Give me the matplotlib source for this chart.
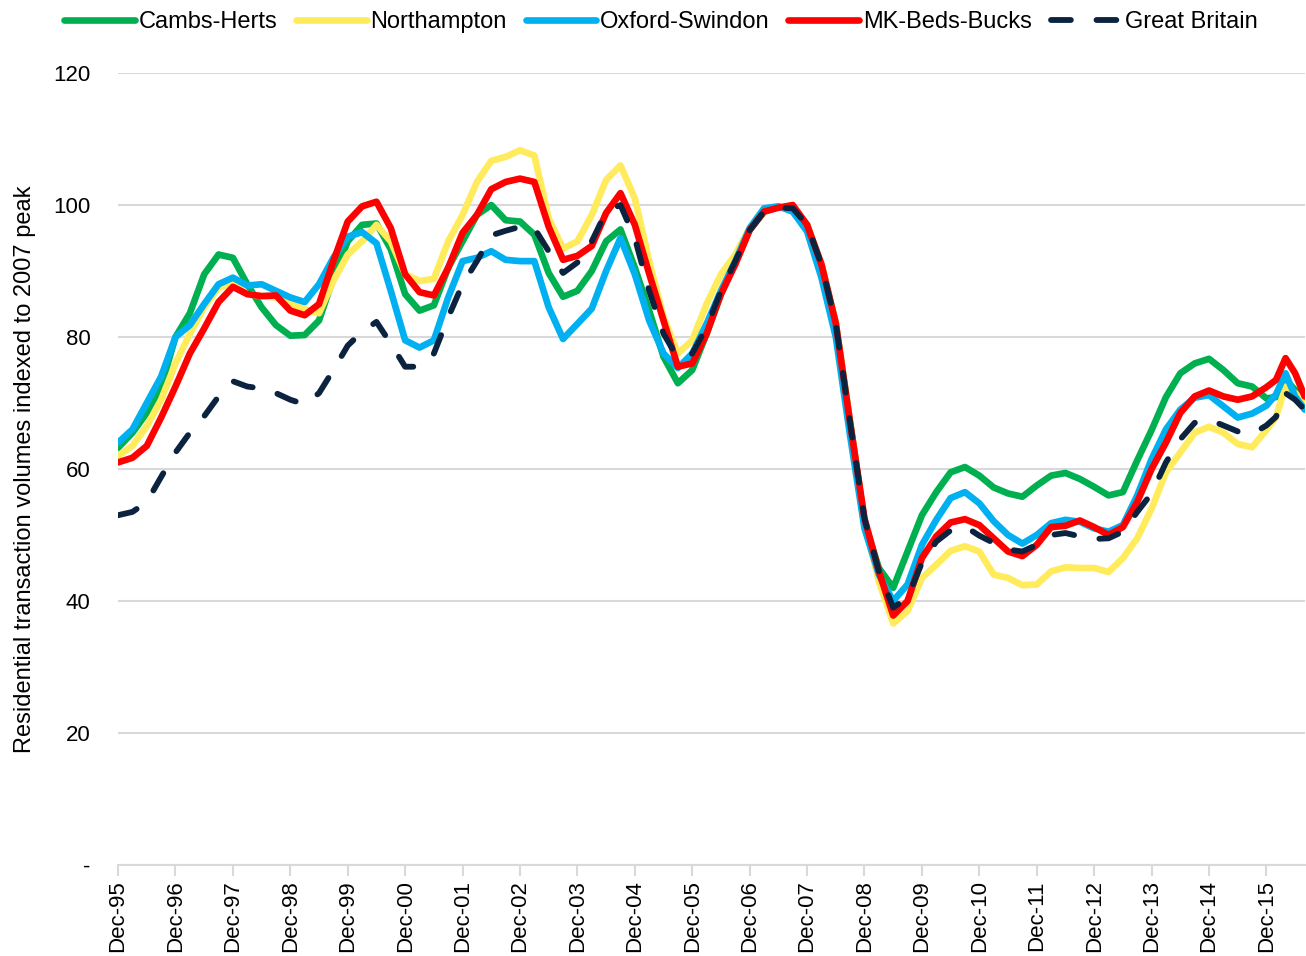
import matplotlib
matplotlib.use("Agg")
import matplotlib.pyplot as plt

plt.rcParams['font.family'] = ['Liberation Sans', 'DejaVu Sans']

# months since Dec-95 (quarterly, denser at the end)
months = list(range(0, 240, 3)) + [240, 242, 244, 246, 248]

cambs_herts = [63.2, 65.5, 68.5, 72.5, 80, 83.6, 89.5, 92.5, 92, 88,
               84.5, 81.8, 80.2, 80.3, 82.5, 89, 94.5, 97, 97.2, 93.3,
               86.5, 84, 84.8, 90.5, 94.5, 98.5, 100, 97.7, 97.5, 95.5,
               89.7, 86.1, 87, 90, 94.5, 96.3, 90.5, 84, 77, 73,
               75, 80.5, 86.5, 91.5, 96.2, 99, 99.7, 99.5, 97, 91,
               82, 67, 52, 45, 42, 47.5, 53, 56.5, 59.5, 60.3,
               59, 57.2, 56.3, 55.8, 57.5, 59, 59.4, 58.5, 57.3, 56,
               56.5, 61.3, 65.9, 70.9, 74.5, 76, 76.7, 75, 73, 72.5,
               70.7, 70.9, 73.5, 72, 70.3]
northampton = [62, 63.5, 66.5, 70.5, 76, 80.5, 84.5, 87.5, 88, 86.5,
               86.2, 86, 85, 84.2, 83.6, 88.5, 92.5, 94.5, 97, 94.5,
               89.5, 88.5, 88.8, 94.5, 98.5, 103.5, 106.7, 107.3, 108.3, 107.5,
               98, 93.4, 94.5, 98.5, 103.8, 106, 101, 91.5, 83, 77.5,
               79.5, 85, 89.5, 92.5, 96.5, 99, 99.8, 99.3, 97, 91,
               82, 67, 52, 43, 36.6, 38.5, 43.5, 45.5, 47.6, 48.3,
               47.5, 44, 43.5, 42.4, 42.5, 44.5, 45.1, 45, 45, 44.4,
               46.5, 49.5, 54, 59.5, 62.5, 65.5, 66.4, 65.5, 63.8, 63.3,
               65.9, 67.9, 72.5, 71.5, 70]
oxford_swindon = [64, 66, 70, 74, 80, 81.8, 85, 88, 89, 87.8,
                  88, 87, 86, 85.3, 88, 92, 95.2, 95.9, 94.2, 87,
                  79.5, 78.4, 79.5, 86, 91.5, 92, 93, 91.7, 91.5, 91.5,
                  84.5, 79.7, 82, 84.3, 90, 95, 89.5, 82.5, 77.5, 75.3,
                  77.5, 82, 87, 91.5, 96.5, 99.5, 99.8, 99, 96, 89,
                  80, 65, 51, 44, 40, 42.5, 48.5, 52.3, 55.6, 56.5,
                  54.8, 52.1, 50, 48.7, 50, 51.8, 52.3, 52, 51, 50.5,
                  51.5, 56, 61.5, 66, 69, 70.8, 71.2, 69.5, 67.8, 68.4,
                  69.6, 71.3, 74.5, 71, 69]
mk_beds_bucks = [61, 61.7, 63.5, 67.8, 72.5, 77.5, 81.3, 85.3, 87.6, 86.5,
                 86.2, 86.3, 84, 83.3, 85, 91.5, 97.5, 99.8, 100.5, 96.5,
                 89.5, 86.8, 86.3, 90.5, 95.8, 98.5, 102.4, 103.5, 104, 103.5,
                 96.7, 91.7, 92.3, 93.8, 98.8, 101.8, 97, 89.6, 82.5, 75.5,
                 76, 80.5, 86.5, 91, 96.2, 99, 99.6, 100, 97, 91,
                 82.1, 67, 52.5, 44.5, 37.8, 40, 46.5, 49.8, 51.9, 52.4,
                 51.5, 49.5, 47.5, 46.8, 48.5, 51.2, 51.4, 52.2, 51.2, 50,
                 51.2, 55, 60, 64, 68.5, 71, 71.9, 71, 70.5, 71,
                 72.4, 73.5, 76.8, 74.5, 71]
great_britain = [53, 53.5, 55, 58.8, 62.5, 65.5, 68, 71, 73.3, 72.5,
                 72.2, 71.5, 70.5, 69.8, 71.5, 75, 78.7, 80.8, 82.3, 79,
                 75.5, 75.5, 77.5, 83, 88, 91.5, 95.4, 96.1, 96.7, 96.5,
                 93, 89.7, 91.3, 94.5, 99, 100, 95, 87, 80.5, 76.8,
                 77.5, 81.5, 87, 91.5, 96.2, 99, 99.6, 99.5, 97, 91,
                 82, 67, 52.5, 44.5, 39, 40.5, 45.8, 49, 50.7, 51.3,
                 49.9, 48.8, 47.8, 47.5, 48.5, 50, 50.3, 49.8, 49.4, 49.5,
                 50.5, 53.5, 56.3, 61, 64.5, 67, 67.5, 66.6, 65.7, 65.3,
                 66.6, 67.9, 71.5, 70.5, 69]

year_labels = ['Dec-95', 'Dec-96', 'Dec-97', 'Dec-98', 'Dec-99', 'Dec-00', 'Dec-01',
               'Dec-02', 'Dec-03', 'Dec-04', 'Dec-05', 'Dec-06', 'Dec-07', 'Dec-08',
               'Dec-09', 'Dec-10', 'Dec-11', 'Dec-12', 'Dec-13', 'Dec-14', 'Dec-15']

fig = plt.figure(figsize=(13.06, 9.56), dpi=100)
ax = fig.add_axes([0.0904, 0.0952, 0.9086, 0.8284])

lw = 4.8
ax.plot(months, cambs_herts, color='#00B050', lw=lw, label='Cambs-Herts', solid_capstyle='round')
ax.plot(months, northampton, color='#FFEB5B', lw=lw, label='Northampton', solid_capstyle='round')
ax.plot(months, oxford_swindon, color='#00B0F0', lw=lw, label='Oxford-Swindon', solid_capstyle='round')
ax.plot(months, mk_beds_bucks, color='#FF0000', lw=lw, label='MK-Beds-Bucks', solid_capstyle='round')
ax.plot(months, great_britain, color='#0C2340', lw=4.2, label='Great Britain',
        linestyle=(0, (3.4, 4.4)), dash_capstyle='round')

ax.set_xlim(0, 248)
ax.set_ylim(0, 120)
ax.set_yticks([0, 20, 40, 60, 80, 100, 120])
ax.set_yticklabels(['-', '20', '40', '60', '80', '100', '120'], fontsize=16)
ax.set_xticks(range(0, 241, 12))
ax.set_xticklabels(year_labels, rotation=90, fontsize=16)
ax.grid(axis='y', color='#D9D9D9', lw=1.5)
ax.set_axisbelow(True)
for s in ['left', 'right', 'top']:
    ax.spines[s].set_visible(False)
ax.spines['bottom'].set_color('#D9D9D9')
ax.spines['bottom'].set_linewidth(1.5)
ax.tick_params(axis='x', color='#D9D9D9', length=8, width=1.5, pad=3)
ax.tick_params(axis='y', length=0, pad=20)
ax.set_ylabel('Residential transaction volumes indexed to 2007 peak', fontsize=17, labelpad=12)

fig.legend(loc='center', bbox_to_anchor=(0.506, 0.977), ncol=5, frameon=False,
           fontsize=17, handlelength=3.0, handletextpad=0.15, columnspacing=0.8)

fig.savefig('out.png', dpi=100)
